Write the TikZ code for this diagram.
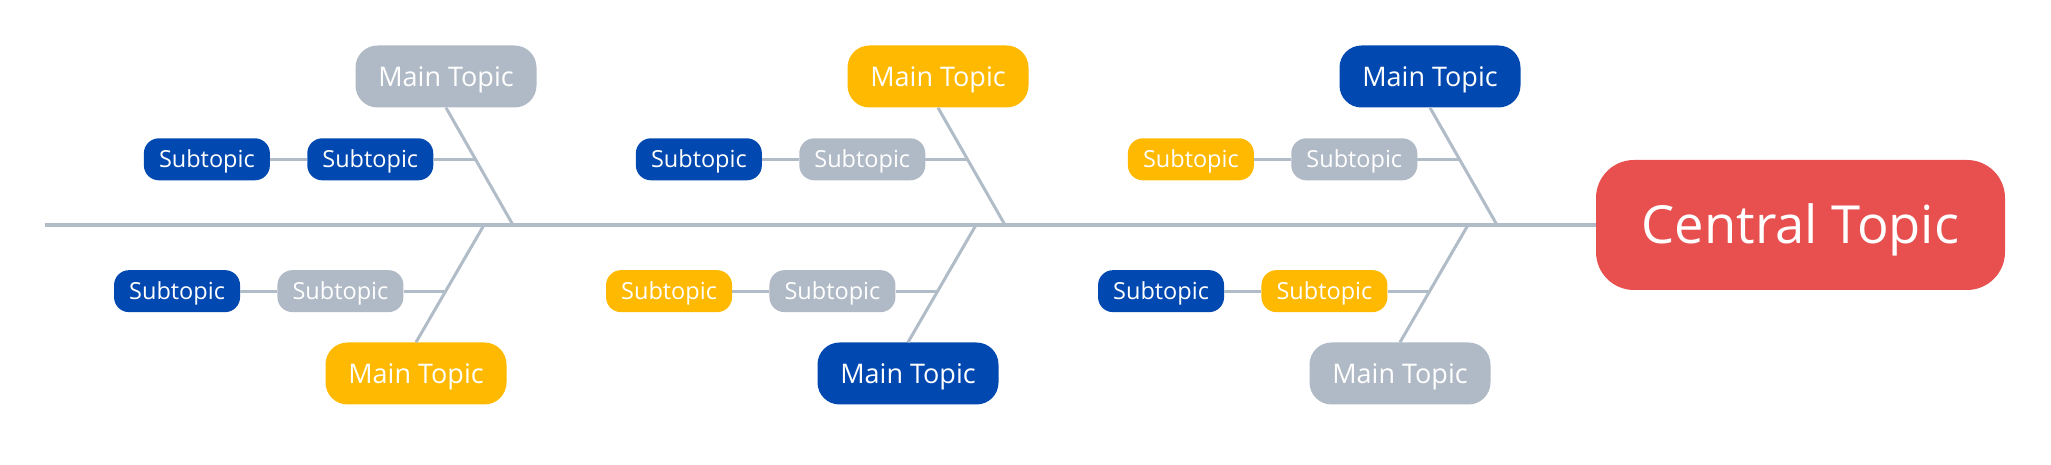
\documentclass[tikz,border=0pt]{standalone}
\usepackage{fontspec}
\setmainfont{Open Sans}
\usepackage{tikz}
\usetikzlibrary{positioning, calc}
\definecolor{bonegray}{RGB}{176,188,200}
\definecolor{ashgray}{RGB}{176,186,198}
\definecolor{amber}{RGB}{255,185,0}
\definecolor{royal}{RGB}{1,73,176}
\definecolor{coral}{RGB}{232,80,80}

\begin{document}
\begin{tikzpicture}[x=1pt, y=1pt,
  topic/.style={rounded corners=22pt, minimum width=181pt, minimum height=62pt, inner sep=0pt, text=white, text height=19.3pt, text depth=0pt, font=\fontsize{27}{31}\selectfont},
  subtopic/.style={rounded corners=15pt, minimum width=126pt, minimum height=42pt, inner sep=0pt, text=white, text height=16.8pt, text depth=0pt, font=\fontsize{23.5}{27}\selectfont},
  bone/.style={draw=bonegray, line width=3pt}]
  \useasboundingbox (0,0) rectangle (2051,465);
  % Head and spine
  \node[fill=coral, rounded corners=38pt, minimum width=409pt, minimum height=130pt, inner sep=0pt, text=white, text height=37.5pt, text depth=0pt, font=\fontsize{52.5}{60}\selectfont] (head) at (1800.5,240) {Central Topic};
  \coordinate (tail) at (45,240);
  \draw[bone, line width=4pt] (tail) -- (head.west);
  % Upper bones
  \foreach \i/\x/\c/\ca/\cb in {1/446/ashgray/royal/royal, 2/938/amber/royal/ashgray, 3/1430/royal/amber/ashgray} {
    \node[topic, fill=\c] (up\i) at (\x,388.5) {Main Topic};
    \coordinate (upj\i) at (\x+67,240);
    \draw[bone] (up\i.south) -- (upj\i);
    \coordinate (upk\i) at ($(up\i.south)!0.44!(upj\i)$);
    \node[subtopic, fill=\cb, left=42pt of upk\i] (upb\i) {Subtopic};
    \node[subtopic, fill=\ca, left=37pt of upb\i] (upa\i) {Subtopic};
    \draw[bone] (upa\i) -- (upb\i) -- (upk\i);
  }
  % Lower bones
  \foreach \i/\x/\c/\ca/\cb in {1/416/amber/royal/ashgray, 2/908/royal/amber/ashgray, 3/1400/ashgray/royal/amber} {
    \node[topic, fill=\c] (lo\i) at (\x,91.5) {Main Topic};
    \coordinate (loj\i) at (\x+68,240);
    \draw[bone] (loj\i) -- (lo\i.north);
    \coordinate (lok\i) at ($(loj\i)!0.564!(lo\i.north)$);
    \node[subtopic, fill=\cb, left=42pt of lok\i] (lob\i) {Subtopic};
    \node[subtopic, fill=\ca, left=37pt of lob\i] (loa\i) {Subtopic};
    \draw[bone] (loa\i) -- (lob\i) -- (lok\i);
  }
\end{tikzpicture}
\end{document}
